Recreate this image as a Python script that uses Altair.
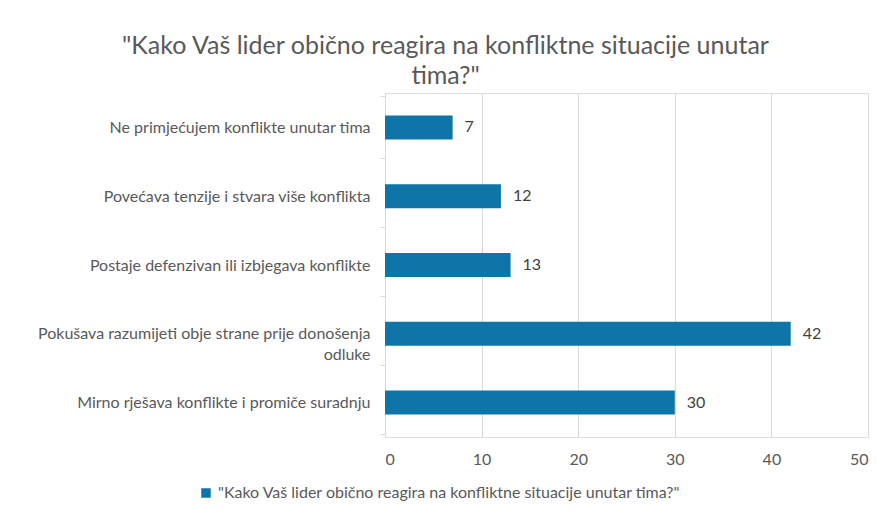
import altair as alt
import pandas as pd

categories = [
    "Ne primjećujem konflikte unutar tima",
    "Povećava tenzije i stvara više konflikta",
    "Postaje defenzivan ili izbjegava konflikte",
    "Pokušava razumijeti obje strane prije donošenja\nodluke",
    "Mirno rješava konflikte i promiče suradnju",
]
values = [7, 12, 13, 42, 30]
series_name = '"Kako Vaš lider obično reagira na konfliktne situacije unutar tima?"'
title_lines = ['"Kako Vaš lider obično reagira na konfliktne situacije unutar', 'tima?"']
x_ticks = [0, 10, 20, 30, 40, 50]

df = pd.DataFrame({"cat": categories, "val": values, "series": [series_name] * len(values)})

FONT = "Lato"
BLUE = "#0F75A8"
GRAY = "#595959"
FS = 16

base = alt.Chart(df)

bars = base.mark_bar(size=24).encode(
    y=alt.Y(
        "cat:N",
        sort=categories,
        title=None,
        axis=alt.Axis(
            tickBand="extent",
            labelExpr="split(datum.label, '\\n')",
            labelLineHeight=21,
            labelPadding=10,
            labelFontSize=FS,
            labelColor=GRAY,
            labelFont=FONT,
            domainColor="#d9d9d9",
            tickColor="#d9d9d9",
            tickSize=5,
            grid=False,
            labelLimit=400,
        ),
    ),
    x=alt.X(
        "val:Q",
        scale=alt.Scale(domain=[0, 50], nice=False),
        title=None,
        axis=alt.Axis(
            values=x_ticks,
            grid=True,
            gridColor="#d9d9d9",
            domain=False,
            ticks=False,
            labelPadding=14,
            labelFontSize=FS,
            labelColor=GRAY,
            labelFont=FONT,
        ),
    ),
    color=alt.Color(
        "series:N",
        scale=alt.Scale(range=[BLUE]),
        legend=alt.Legend(
            title=None,
            orient="none",
            legendX=-187,
            legendY=392,
            symbolType="square",
            symbolSize=90,
            symbolStrokeWidth=0,
            labelFontSize=FS,
            labelColor=GRAY,
            labelFont=FONT,
            labelLimit=800,
        ),
    ),
)

labels = base.mark_text(align="left", dx=12, fontSize=FS, color="#404040", font=FONT).encode(
    y=alt.Y("cat:N", sort=categories),
    x="val:Q",
    text="val:Q",
)

chart = (
    (bars + labels)
    .properties(
        width=483,
        height=344,
        title=alt.TitleParams(
            text=title_lines,
            fontSize=25,
            font=FONT,
            fontWeight="normal",
            color=GRAY,
            anchor="middle",
            dx=-181,
            lineHeight=30,
            offset=-4,
        ),
        autosize=alt.AutoSizeParams(type="none"),
        padding={"left": 377, "top": 85, "right": 1, "bottom": 80},
    )
    .configure_view(stroke=None)
    .configure(background="white")
)

chart.save("out.html", embed_options={"renderer": "svg", "actions": False})
